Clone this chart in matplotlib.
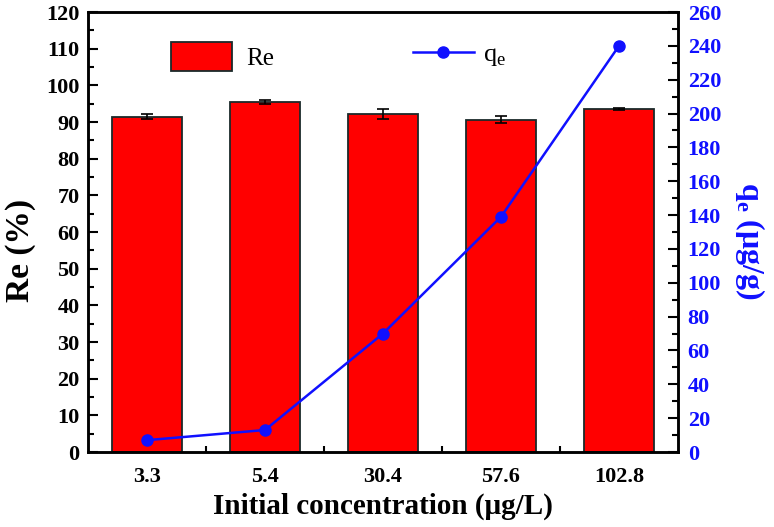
import numpy as np
import matplotlib
matplotlib.use("Agg")
import matplotlib.pyplot as plt
from matplotlib.ticker import MultipleLocator, FixedLocator

# 数据
concentrations = ["3.3", "5.4", "30.4", "57.6", "102.8"]
re_values = [91.5, 95.5, 92.2, 90.6, 93.6]
re_errors = [0.8, 0.6, 1.3, 1.0, 0.3]
qe_values = [7, 13, 70, 139, 240]

plt.rcParams['font.family'] = ['Liberation Serif', 'DejaVu Serif']
plt.rcParams['mathtext.fontset'] = 'custom'
plt.rcParams['mathtext.rm'] = 'Liberation Serif'
plt.rcParams['mathtext.bf'] = 'Liberation Serif:bold'

blue = "#1010ff"

fig = plt.figure(figsize=(7.74, 5.27), dpi=100)
ax = fig.add_axes([88 / 774, 75 / 527, 590 / 774, 440 / 527])
ax2 = ax.twinx()

x = np.arange(len(concentrations))
bars = ax.bar(x, re_values, width=0.6, color="#ff0000", edgecolor="#1a2a2a",
              linewidth=1.3, yerr=re_errors, capsize=4,
              error_kw=dict(ecolor="black", elinewidth=1.2, capthick=1.2),
              label="Re", zorder=2)

line, = ax2.plot(x, qe_values, color=blue, lw=1.8, marker="o",
                 markersize=8, markerfacecolor=blue,
                 markeredgecolor=blue, label=r"q$_\mathregular{e}$")

# 坐标轴
ax.set_xlim(-0.5, 4.5)
ax.set_ylim(0, 120)
ax2.set_ylim(0, 260)
ax.set_xticks(x)
ax.set_xticklabels(concentrations)
ax.xaxis.set_minor_locator(FixedLocator(x[:-1] + 0.5))
ax.yaxis.set_major_locator(MultipleLocator(10))
ax.yaxis.set_minor_locator(MultipleLocator(5))
ax2.yaxis.set_major_locator(MultipleLocator(20))
ax2.yaxis.set_minor_locator(MultipleLocator(10))

ax.tick_params(axis="both", which="both", direction="in", width=1.5)
ax.tick_params(axis="both", which="major", length=7, labelsize=16, pad=6)
ax.tick_params(axis="both", which="minor", length=4)
ax.tick_params(axis="x", which="major", pad=11)
ax2.tick_params(axis="y", which="both", direction="in", width=1.5,
                labelcolor=blue, labelsize=16)
ax2.tick_params(axis="y", which="major", length=7, pad=7)
ax2.tick_params(axis="y", which="minor", length=4)

for lab in ax.get_yticklabels() + ax.get_xticklabels() + ax2.get_yticklabels():
    lab.set_fontweight("bold")

for sp in list(ax.spines.values()) + list(ax2.spines.values()):
    sp.set_linewidth(1.8)

ax.set_xlabel("Initial concentration (μg/L)", fontsize=21, fontweight="bold")
ax.xaxis.set_label_coords(0.5, -0.093)
ax.set_ylabel("Re (%)", fontsize=24, fontweight="bold")
ax.yaxis.set_label_coords(-0.088, 0.459)
ax2.set_ylabel(r"q$_\mathbf{e}$ (μg/g)", fontsize=23, fontweight="bold",
               color=blue, rotation=270, labelpad=33)
ax2.yaxis.label.set_y(0.48)

# 图例
leg1 = ax2.legend([bars], ["Re"], loc="upper left",
                  bbox_to_anchor=(0.1407, 0.932), borderpad=0,
                  borderaxespad=0, frameon=False, fontsize=18,
                  handlelength=2.44, handleheight=1.4, handletextpad=0.56)
ax2.add_artist(leg1)
ax2.legend([line], [r"q$_\mathregular{e}$"], loc="center left",
           bbox_to_anchor=(0.551, 0.902), borderpad=0, borderaxespad=0,
           frameon=False, fontsize=19, handlelength=2.3,
           handletextpad=0.34)

fig.savefig("out.png", dpi=100)
